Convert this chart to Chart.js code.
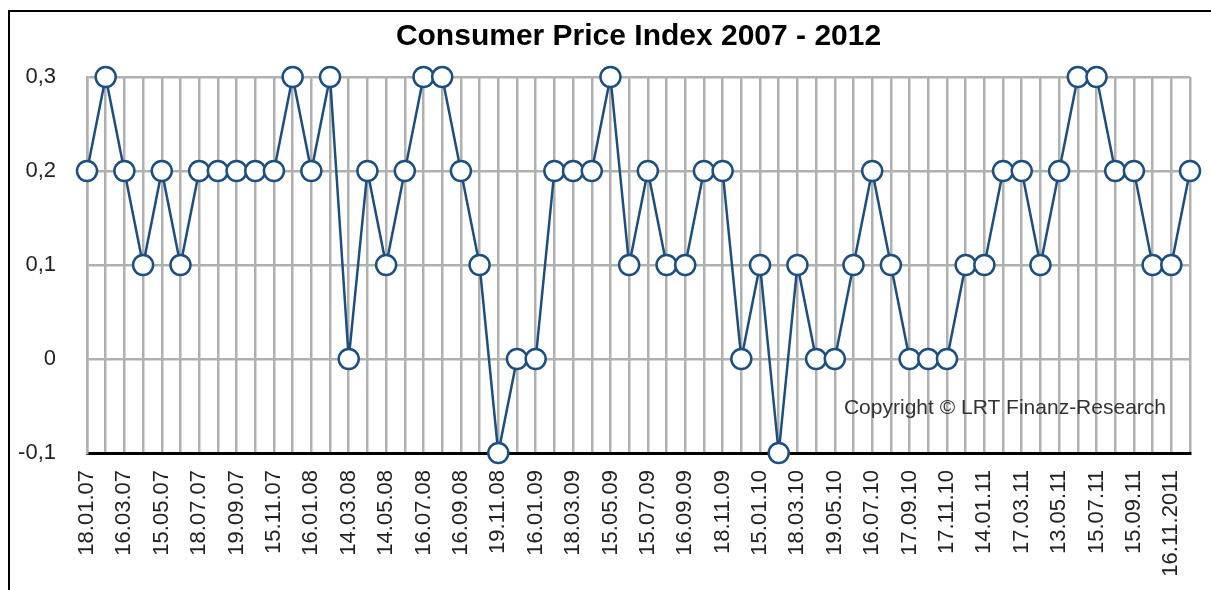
<!DOCTYPE html>
<html>
<head>
<meta charset="utf-8">
<script src="https://cdn.jsdelivr.net/npm/chart.js@4/dist/chart.umd.min.js"></script>
<style>
  body { margin: 0; background: #fff; }
  #wrap { width: 1211px; height: 590px; position: relative; }
</style>
</head>
<body>
<div id="wrap"><canvas id="mycanvas"></canvas></div>
<script>
// month-to-month change, only every second date is printed on the axis
var categories = [
  '18.01.07', '', '16.03.07', '', '15.05.07', '', '18.07.07', '', '19.09.07', '',
  '15.11.07', '', '16.01.08', '', '14.03.08', '', '14.05.08', '', '16.07.08', '',
  '16.09.08', '', '19.11.08', '', '16.01.09', '', '18.03.09', '', '15.05.09', '',
  '15.07.09', '', '16.09.09', '', '18.11.09', '', '15.01.10', '', '18.03.10', '',
  '19.05.10', '', '16.07.10', '', '17.09.10', '', '17.11.10', '', '14.01.11', '',
  '17.03.11', '', '13.05.11', '', '15.07.11', '', '15.09.11', '', '16.11.2011', ''
];

var cpiValues = [
  0.2, 0.3, 0.2, 0.1, 0.2, 0.1, 0.2, 0.2, 0.2, 0.2,
  0.2, 0.3, 0.2, 0.3, 0, 0.2, 0.1, 0.2, 0.3, 0.3,
  0.2, 0.1, -0.1, 0, 0, 0.2, 0.2, 0.2, 0.3, 0.1,
  0.2, 0.1, 0.1, 0.2, 0.2, 0, 0.1, -0.1, 0.1, 0,
  0, 0.1, 0.2, 0.1, 0, 0, 0, 0.1, 0.1, 0.2,
  0.2, 0.1, 0.2, 0.3, 0.3, 0.2, 0.2, 0.1, 0.1, 0.2
];

var yTicks = [-0.1, 0, 0.1, 0.2, 0.3];

var titleText = 'Consumer Price Index 2007 - 2012';
var copyrightText = 'Copyright \u00a9 LRT Finanz-Research';

var lineBlue = '#1c4f80';
var gridGray = '#b0b0b0';

// black frame line on top and left side of the picture
var framePlugin = {
  id: 'frame',
  afterDraw: function(chart) {
    var ctx = chart.ctx;
    ctx.save();
    ctx.strokeStyle = '#000';
    ctx.lineWidth = 2;
    ctx.beginPath();
    ctx.moveTo(9, chart.height);
    ctx.lineTo(9, 11);
    ctx.lineTo(chart.width, 11);
    ctx.stroke();
    ctx.restore();
  }
};

// copyright note inside the plot, lower right
var copyrightPlugin = {
  id: 'copyright',
  afterDatasetsDraw: function(chart) {
    var ctx = chart.ctx;
    var area = chart.chartArea;
    ctx.save();
    ctx.font = '21px "Liberation Sans", Arial, sans-serif';
    ctx.fillStyle = '#333';
    ctx.textAlign = 'right';
    ctx.textBaseline = 'middle';
    ctx.fillText(copyrightText, area.right - 24, area.bottom - 45);
    ctx.restore();
  }
};

var ctx = document.getElementById('mycanvas');

var lineChart = new Chart(ctx, {
  type: 'line',
  data: {
    labels: categories,
    datasets: [{
      label: 'CPI',
      data: cpiValues,
      borderColor: lineBlue,
      borderWidth: 2.5,
      backgroundColor: '#fff',
      pointBackgroundColor: '#fff',
      pointBorderColor: lineBlue,
      pointBorderWidth: 2.5,
      pointRadius: 10,
      tension: 0,
      clip: false
    }]
  },
  options: {
    responsive: true,
    maintainAspectRatio: false,
    animation: false,
    layout: { padding: { left: 10, right: 21, top: 19, bottom: 0 } },
    plugins: {
      legend: { display: false },
      tooltip: { enabled: false },
      title: {
        display: true,
        text: titleText,
        fullSize: false,
        color: '#000',
        font: { family: '"Liberation Sans", Arial, sans-serif', size: 30, weight: 'bold' },
        padding: { top: 0, bottom: 22 }
      }
    },
    scales: {
      x: {
        offset: false,
        grid: { color: gridGray, lineWidth: 2.5, drawTicks: false },
        border: { color: '#000', width: 3 },
        ticks: {
          autoSkip: false,
          minRotation: 90,
          maxRotation: 90,
          padding: 17,
          color: '#222',
          font: { family: '"Liberation Sans", Arial, sans-serif', size: 22 }
        },
        afterFit: function(scale) {
          scale.height = 137;
          scale.paddingLeft = 0;
          scale.paddingRight = 0;
        }
      },
      y: {
        min: -0.1,
        max: 0.3,
        grid: { color: gridGray, lineWidth: 2.5, drawTicks: false },
        border: { color: gridGray, width: 2.5 },
        afterBuildTicks: function(scale) {
          scale.ticks = yTicks.map(function(v) { return { value: v }; });
        },
        ticks: {
          padding: 31,
          color: '#222',
          font: { family: '"Liberation Sans", Arial, sans-serif', size: 22 },
          callback: function(v) {
            if (Math.abs(v) < 1e-9) return '0';
            return v.toFixed(1).replace('.', ',');
          }
        },
        afterFit: function(scale) { scale.width = 77; }
      }
    }
  },
  plugins: [framePlugin, copyrightPlugin]
});
</script>
</body>
</html>
